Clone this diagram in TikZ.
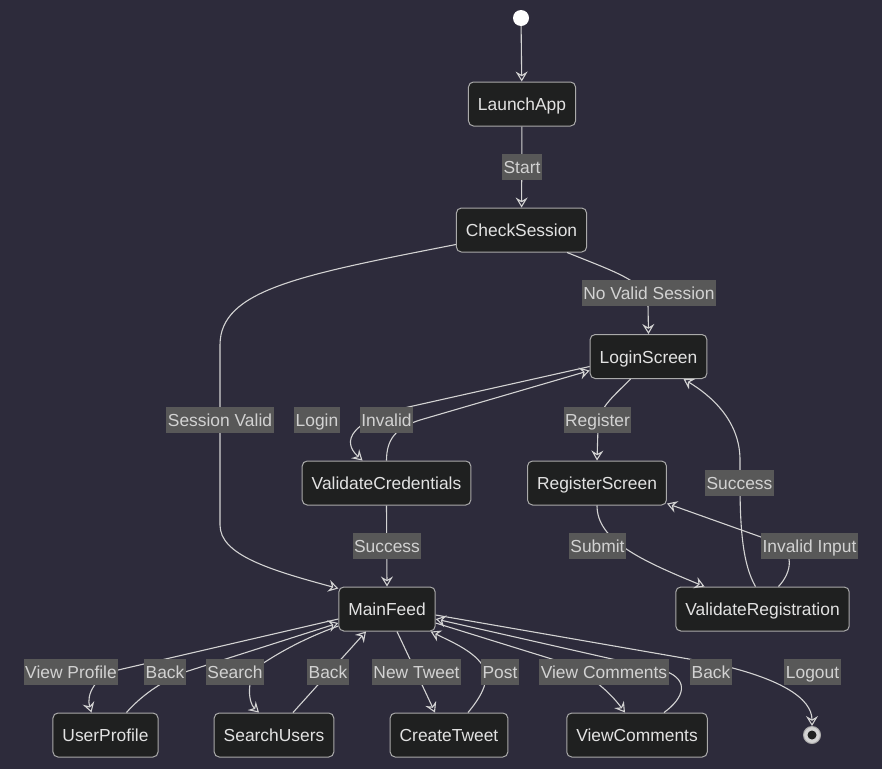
\documentclass[tikz,border=0pt]{standalone}
\usepackage{fontspec}
\setmainfont{Liberation Sans}
\usetikzlibrary{arrows.meta}
\definecolor{fundo}{RGB}{45,43,59}
\definecolor{caixa}{RGB}{31,32,32}
\definecolor{borda}{RGB}{170,170,170}
\definecolor{texto}{RGB}{226,226,226}
\definecolor{etiq}{RGB}{88,88,88}
\definecolor{textoet}{RGB}{210,210,210}
\definecolor{linha}{RGB}{211,211,211}
\begin{document}
\begin{tikzpicture}[x=1pt,y=-1pt,
    estado/.style={draw=borda, fill=caixa, text=texto, rounded corners=5pt, line width=1pt,
      minimum height=44pt, inner xsep=9.5pt, text height=15pt, text depth=2pt,
      font=\fontsize{17.4}{20}\selectfont},
    rotulo/.style={fill=etiq, text=textoet, inner xsep=1.5pt, inner ysep=0pt,
      minimum height=26pt, text height=15pt, text depth=2pt, font=\fontsize{17.4}{20}\selectfont},
    trans/.style={draw=linha, line width=1.1pt, -{Stealth[open,length=10pt,width=12pt,inset=3.5pt]}}]
      % Fundo
      \useasboundingbox (0,0) rectangle (882,769);
      \fill[fundo] (0,0) rectangle (882,769);

      % Estados
      \node[circle, fill=white, minimum size=16pt, inner sep=0pt] (ini) at (521,18) {};
      \node[estado] (launch)  at (522,104)   {LaunchApp};
      \node[estado] (check)   at (521.5,230) {CheckSession};
      \node[estado] (login)   at (648.5,356.5) {LoginScreen};
      \node[estado] (valcred) at (386.5,483) {ValidateCredentials};
      \node[estado] (regscr)  at (597,483)   {RegisterScreen};
      \node[estado] (main)    at (387,609)   {MainFeed};
      \node[estado] (valreg)  at (762.5,609) {ValidateRegistration};
      \node[estado] (uprof)   at (105.5,735) {UserProfile};
      \node[estado] (suser)   at (274,735)   {SearchUsers};
      \node[estado] (ctweet)  at (449,735)   {CreateTweet};
      \node[estado] (vcomm)   at (637,735)   {ViewComments};

      \node[circle, fill=linha, draw=borda, line width=1pt, minimum size=17pt, inner sep=0pt] (fim) at (812,735) {};
      \fill[caixa] (fim) circle (4.5pt);

      % Transicoes
      \draw[trans] (ini) -- (launch);
      \draw[trans] (launch) -- (check);
      \draw[trans] ([yshift=8pt]check.south west) .. controls (300,275) and (220,290) .. (220,345)
                   -- (220,525) .. controls (220,555) and (270,570) .. ([yshift=-2pt]main.north west);
      \draw[trans] ([xshift=-20pt]check.south east) .. controls (615,272) and (648,282) .. (648,305) -- (login.north);

      \draw[trans] ([yshift=-10pt]login.west) -- (395,410) .. controls (355,422) and (340,440) .. ([xshift=-24pt]valcred.north);
      \draw[trans] (valcred.north) .. controls (386.5,440) and (395,428) .. (420,420) -- ([yshift=-14pt]login.west);
      \draw[trans] ([xshift=-18pt]login.south) .. controls (612,398) and (598,408) .. (598,428) -- (regscr.north);

      \draw[trans] (regscr.south) .. controls (597,540) and (640,560) .. ([xshift=-58pt]valreg.north);
      \draw[trans] ([xshift=16pt]valreg.north) .. controls (792,572) and (795,552) .. (775,542) -- ([yshift=2pt]regscr.south east);
      \draw[trans] ([xshift=-7pt]valreg.north) .. controls (743,565) and (740,530) .. (740,483)
                   -- (740,460) .. controls (740,420) and (710,395) .. ([xshift=35pt]login.south);

      \draw[trans] (valcred.south) -- (main.north);

      \draw[trans] ([yshift=-10pt]main.west) -- (118,670) .. controls (95,676) and (86,695) .. ([xshift=-14pt]uprof.north);
      \draw[trans] ([xshift=21pt]uprof.north) .. controls (140,697) and (160,682) .. (185,672) -- ([yshift=-14pt]main.west);
      \draw[trans] ([yshift=-17pt]main.west) .. controls (305,638) and (280,652) .. (262,664)
                   -- (250,684) .. controls (248,698) and (252,706) .. ([xshift=-15pt]suser.north);
      \draw[trans] ([xshift=19pt]suser.north) -- ([xshift=-21pt]main.south);
      \draw[trans] ([xshift=10pt]main.south) -- ([xshift=-14pt]ctweet.north);
      \draw[trans] ([xshift=19pt]ctweet.north) .. controls (480,698) and (490,682) .. (484,668)
                   .. controls (476,652) and (452,642) .. ([xshift=-5pt]main.south east);
      \draw[trans] ([yshift=-14pt]main.east) -- (555,660) .. controls (590,672) and (612,695) .. ([xshift=-12pt]vcomm.north);
      \draw[trans] ([xshift=27pt]vcomm.north) .. controls (684,698) and (690,680) .. (665,671) -- ([yshift=-10pt]main.east);
      \draw[trans] ([yshift=-6pt]main.east) -- (712,663) .. controls (780,678) and (812,698) .. (fim.north);

      % Rotulos
      \node[rotulo] (tStart)    at (522,167) {Start};
      \node[rotulo] (tNoValid)  at (649,293) {No Valid Session};
      \node[rotulo] (tSession)  at (220,420) {Session Valid};
      \node[rotulo] (tLogin)    at (317,420) {Login};
      \node[rotulo] (tInvalid)  at (386.5,420) {Invalid};
      \node[rotulo] (tRegister) at (597.5,420) {Register};
      \node[rotulo] (tSuccessR) at (739.5,483) {Success};
      \node[rotulo] (tSuccessM) at (387,546) {Success};
      \node[rotulo] (tSubmit)   at (597.5,546) {Submit};
      \node[rotulo] (tInvInput) at (809.5,546) {Invalid Input};
      \node[rotulo] (tViewProf) at (71,672)  {View Profile};
      \node[rotulo] (tBackA)    at (165,672) {Back};
      \node[rotulo] (tSearch)   at (235,672) {Search};
      \node[rotulo] (tBackB)    at (328,672) {Back};
      \node[rotulo] (tNewTweet) at (416.5,672) {New Tweet};
      \node[rotulo] (tPost)     at (500,672) {Post};
      \node[rotulo] (tViewCom)  at (604,672) {View Comments};
      \node[rotulo] (tBackC)    at (711,672) {Back};
      \node[rotulo] (tLogout)   at (812.5,672) {Logout};

    \end{tikzpicture}
\end{document}
